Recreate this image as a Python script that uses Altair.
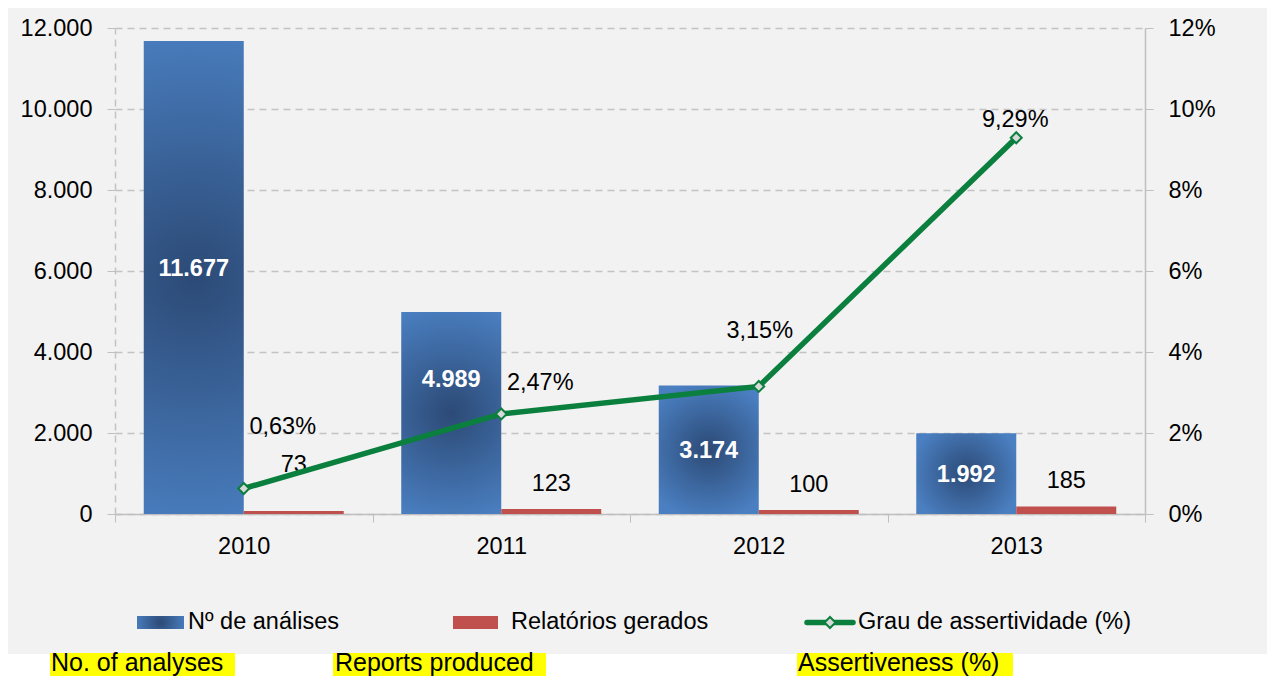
import altair as alt
import pandas as pd

# ---------------- data ----------------
years = ["2010", "2011", "2012", "2013"]
analyses = [11677, 4989, 3174, 1992]
reports = [73, 123, 100, 185]
assertiveness = [0.0063, 0.0247, 0.0315, 0.0929]
analyses_labels = ["11.677", "4.989", "3.174", "1.992"]
reports_labels = ["73", "123", "100", "185"]
assert_labels = ["0,63%", "2,47%", "3,15%", "9,29%"]
left_ticks = [0, 2000, 4000, 6000, 8000, 10000, 12000]
right_ticks = [0, 0.02, 0.04, 0.06, 0.08, 0.10, 0.12]
series_names = ["Nº de análises", "Relatórios gerados", "Grau de assertividade (%)"]
english_names = ["No. of analyses", "Reports produced", "Assertiveness (%)"]

# ---------------- styling ----------------
FONT = "Liberation Sans"
FS = 23.5
W, H = 1030, 486
BLUE_EDGE = "#4a7fc1"
BLUE_CENTER = "#2c4a76"
RED = "#c0504d"
GREEN = "#0b7f3e"
GRID = "#c3c3c3"
AXIS = "#bfbfbf"

blue_fill = alt.RadialGradient(
    gradient="radial",
    x1=0.5, y1=0.5, r1=0, x2=0.5, y2=0.5, r2=0.55,
    stops=[alt.GradientStop(color=BLUE_CENTER, offset=0),
           alt.GradientStop(color=BLUE_EDGE, offset=1)],
)

# label offsets (pixels), kept apart from the data
blue_label_dy = {"2010": -9, "2011": -33, "2012": 1, "2013": 1}
red_label_dy = {"2010": -46, "2011": -25, "2012": -25, "2013": -26}
pct_label_off = {"2010": (39, -61), "2011": (39, -31), "2012": (1, -55), "2013": (-1, -18)}

bars_df = pd.DataFrame({
    "year": years * 2,
    "series": [series_names[0]] * 4 + [series_names[1]] * 4,
    "value": analyses + reports,
    "label": analyses_labels + reports_labels,
})
line_df = pd.DataFrame({"year": years, "pct": assertiveness, "label": assert_labels})
one = pd.DataFrame({"k": [0]})

x_enc = alt.X(
    "year:N",
    scale=alt.Scale(domain=years, paddingInner=0, paddingOuter=0),
    axis=alt.Axis(title=None, labelAngle=0, tickBand="extent", grid=False,
                  domainColor=AXIS, tickColor=AXIS, tickSize=8, domainWidth=1.5,
                  labelFont=FONT, labelFontSize=FS, labelColor="black", labelPadding=12),
)
xoff_enc = alt.XOffset("series:N", scale=alt.Scale(domain=series_names[:2], paddingInner=0, paddingOuter=0.2875))
yscale_left = alt.Scale(domain=[0, 12000])
yscale_right = alt.Scale(domain=[0, 0.12])

left_axis = alt.Axis(
    title=None, values=left_ticks,
    labelExpr="replace(format(datum.value, ',d'), ',', '.')",
    grid=True, gridDash=[7, 5], gridColor=GRID, gridWidth=1.5,
    domainDash=[7, 5], domainColor=GRID, domainWidth=1.5,
    tickColor=AXIS, tickSize=8, labelPadding=15,
    labelFont=FONT, labelFontSize=FS, labelColor="black",
)
right_axis = alt.Axis(
    title=None, orient="right", values=right_ticks, format=".0%", grid=False,
    domainColor=AXIS, domainWidth=1.5, tickColor=AXIS, tickSize=8, labelPadding=15,
    labelFont=FONT, labelFontSize=FS, labelColor="black",
)

def yl(field):
    return alt.Y(field, scale=yscale_left, axis=left_axis)

def yr_(field):
    return alt.Y(field, scale=yscale_right, axis=right_axis)

base_bars = alt.Chart(bars_df)
blue_bars = base_bars.transform_filter(alt.datum.series == series_names[0]).mark_bar(
    fill=blue_fill).encode(x=x_enc, xOffset=xoff_enc, y=yl("value:Q"))
red_bars = base_bars.transform_filter(alt.datum.series == series_names[1]).mark_bar(
    color=RED).encode(x=x_enc, xOffset=xoff_enc, y=yl("value:Q"))

left_layers = [blue_bars, red_bars]
for yr in years:
    left_layers.append(
        base_bars.transform_filter((alt.datum.series == series_names[0]) & (alt.datum.year == yr))
        .transform_calculate(value="datum.value / 2")
        .mark_text(font=FONT, fontSize=FS, fontWeight="bold", color="white", baseline="middle",
                   dy=blue_label_dy[yr])
        .encode(x=x_enc, xOffset=xoff_enc, y=yl("value:Q"), text="label:N")
    )
    left_layers.append(
        base_bars.transform_filter((alt.datum.series == series_names[1]) & (alt.datum.year == yr))
        .mark_text(font=FONT, fontSize=FS, color="black", baseline="middle", dy=red_label_dy[yr])
        .encode(x=x_enc, xOffset=xoff_enc, y=yl("value:Q"), text="label:N")
    )

base_line = alt.Chart(line_df)
line = base_line.mark_line(color=GREEN, strokeWidth=5.5).encode(x=x_enc, y=yr_("pct:Q"))
pts = base_line.mark_point(shape="diamond", filled=True, fill="#d9d9d9", stroke=GREEN,
                           strokeWidth=2, size=120, opacity=1).encode(x=x_enc, y=yr_("pct:Q"))
right_layers = [line, pts]
for yr in years:
    dx, dy = pct_label_off[yr]
    right_layers.append(
        base_line.transform_filter(alt.datum.year == yr)
        .mark_text(font=FONT, fontSize=FS, color="black", baseline="middle", dx=dx, dy=dy)
        .encode(x=x_enc, y=yr_("pct:Q"), text="label:N")
    )

left_group = alt.layer(*left_layers)
right_group = alt.layer(*right_layers)
main = alt.layer(left_group, right_group).resolve_scale(y="independent")

# ---------------- legend and footer (decorative) ----------------
deco = []
LEG_Y = 594
def rect(x1, x2, y1, y2, fill):
    return alt.Chart(one).mark_rect(fill=fill).encode(
        x=alt.value(x1), x2=alt.value(x2), y=alt.value(y1), y2=alt.value(y2))

def txt(xv, yv, s, size=FS, baseline="middle"):
    return alt.Chart(one).mark_text(font=FONT, fontSize=size, color="black", align="left",
                                    baseline=baseline).encode(
        x=alt.value(xv), y=alt.value(yv), text=alt.value(s))

deco.append(alt.Chart(one).mark_rect(fill=blue_fill).encode(
    x=alt.value(22), x2=alt.value(69), y=alt.value(LEG_Y - 6), y2=alt.value(LEG_Y + 7)))
deco.append(txt(73, LEG_Y, series_names[0]))
deco.append(rect(338, 383, LEG_Y - 6, LEG_Y + 7, RED))
deco.append(txt(396, LEG_Y, series_names[1]))
deco.append(alt.Chart(one).mark_rule(color=GREEN, strokeWidth=5.5, strokeCap="round").encode(
    x=alt.value(692), x2=alt.value(738), y=alt.value(LEG_Y + 0.5)))
deco.append(alt.Chart(one).mark_point(shape="diamond", filled=True, fill="#d9d9d9", stroke=GREEN,
                                      strokeWidth=2, size=120, opacity=1).encode(
    x=alt.value(715), y=alt.value(LEG_Y + 0.5)))
deco.append(txt(743, LEG_Y, series_names[2]))

# white strip under the grey chart area with yellow highlighted translations
deco.append(rect(-130, 1200, 626, 700, "white"))
FOOT_FS = 25
FOOT_BASE = 643
deco.append(rect(-65, 120, 625, 660, "#ffff00"))
deco.append(txt(-64, FOOT_BASE, english_names[0], FOOT_FS, "alphabetic"))
deco.append(rect(218, 431, 625, 660, "#ffff00"))
deco.append(txt(220, FOOT_BASE, english_names[1], FOOT_FS, "alphabetic"))
deco.append(rect(682, 898, 625, 660, "#ffff00"))
deco.append(txt(683, FOOT_BASE, english_names[2], FOOT_FS, "alphabetic"))

chart = alt.layer(*deco[7:], main, *deco[:7]).properties(
    width=W, height=H,
    autosize=alt.AutoSizeParams(type="none"),
    padding={"left": 107, "top": 20, "right": 122, "bottom": 162},
    background="#f2f2f2",
).configure_view(stroke=None)

chart.save("out.html", embed_options={"renderer": "svg", "actions": False})
